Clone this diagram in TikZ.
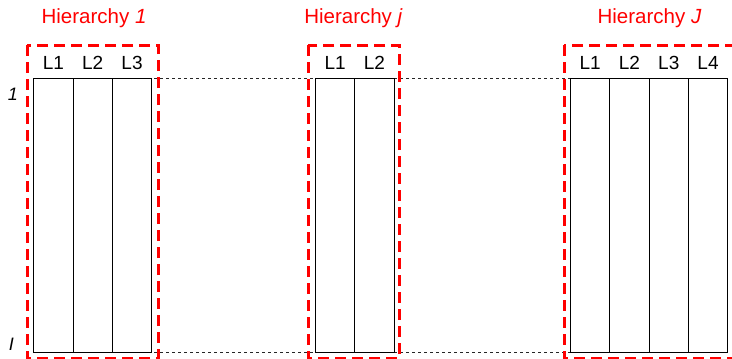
\documentclass[tikz,border=0pt]{standalone}
\usepackage{fontspec}
\setmainfont{Liberation Sans}
\definecolor{hred}{RGB}{255,0,0}
\begin{document}
\begin{tikzpicture}[x=1pt,y=-1pt,
  col/.style={draw=black, line width=1pt, minimum width=39.3pt, minimum height=274pt,
    inner sep=0pt, anchor=north west},
  lab/.style={font=\fontsize{19}{21}\selectfont, inner sep=0pt, anchor=base},
  htitle/.style={font=\fontsize{20.5}{23}\selectfont, text=hred, inner sep=0pt, anchor=base},
  side/.style={font=\fontsize{18}{20}\selectfont\itshape, inner sep=0pt, anchor=base},
  frame/.style={draw=hred, line width=3pt, dash pattern=on 11pt off 6pt},
  guide/.style={draw=black!85, line width=0.9pt, dash pattern=on 3pt off 3pt}]
\useasboundingbox (0,0) rectangle (732,359);
\clip (0,0) rectangle (732,359);

% horizontal guides joining the first and last level of every hierarchy
\coordinate (gtl) at (100,78.3);
\coordinate (gtr) at (636,78.3);
\coordinate (gbl) at (100,352.3);
\coordinate (gbr) at (640,352.3);
\draw[guide] (gtl) -- (gtr);
\draw[guide] (gbl) -- (gbr);

% hierarchy 1: three levels
\foreach \i/\x in {1/33.3,2/72.6,3/111.9}{
  \node[col] (a\i) at (\x,78.3) {};
  \node[lab] (la\i) at ([yshift=9pt]a\i.north) {L\i};
}
% hierarchy j: two levels
\foreach \i/\x in {1/315,2/354.3}{
  \node[col] (b\i) at (\x,78.3) {};
  \node[lab] (lb\i) at ([yshift=9pt]b\i.north) {L\i};
}
% hierarchy J: four levels
\foreach \i/\x in {1/570,2/609.3,3/648.6,4/687.9}{
  \node[col] (c\i) at (\x,78.3) {};
  \node[lab] (lc\i) at ([yshift=9pt]c\i.north) {L\i};
}

% dashed frames round each hierarchy
\draw[frame] (27,45) rectangle (158,358);
\draw[frame] (308.3,45) rectangle (399.3,358);
\draw[frame] (564,45) rectangle (745,358);

% titles
\node[htitle] (ta) at (94,23.3) {Hierarchy \textit{1}};
\node[htitle] (tb) at (353.5,23.3) {Hierarchy \textit{j}};
\node[htitle] (tc) at (649.5,23.3) {Hierarchy \textit{J}};

% row indices
\node[side] (rfirst) at (13,100) {1};
\node[side] (rlast) at (11.5,350) {I};
\end{tikzpicture}
\end{document}
